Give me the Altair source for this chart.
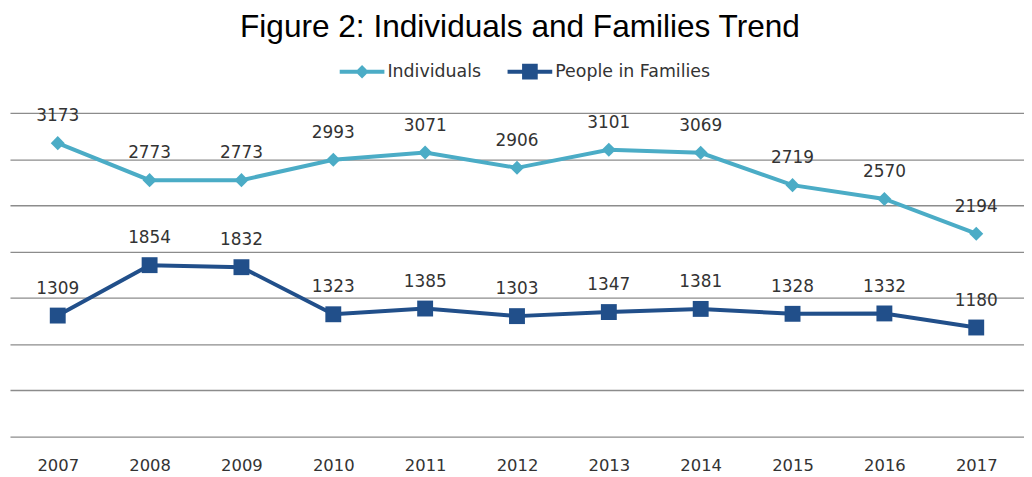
import altair as alt
import pandas as pd

years = ["2007", "2008", "2009", "2010", "2011", "2012", "2013", "2014", "2015", "2016", "2017"]
individuals = [3173, 2773, 2773, 2993, 3071, 2906, 3101, 3069, 2719, 2570, 2194]
families = [1309, 1854, 1832, 1323, 1385, 1303, 1347, 1381, 1328, 1332, 1180]
series_names = ["Individuals", "People in Families"]
series_colors = ["#4BACC6", "#214F8A"]
grid_values = [0, 500, 1000, 1500, 2000, 2500, 3000, 3500]

rows = []
for y, v in zip(years, individuals):
    rows.append({"year": y, "value": v, "series": series_names[0]})
for y, v in zip(years, families):
    rows.append({"year": y, "value": v, "series": series_names[1]})
df = pd.DataFrame(rows)

# legend symbols: a line segment with the series marker on it
IND_SYMBOL = "M-1,-0.09L1,-0.09L1,0.09L-1,0.09Z M0,-0.3L0.3,0L0,0.3L-0.3,0Z"
FAM_SYMBOL = "M-1,-0.09L1,-0.09L1,0.09L-1,0.09Z M-0.35,-0.35L0.35,-0.35L0.35,0.35L-0.35,0.35Z"

x_enc = alt.X(
    "year:N",
    sort=years,
    scale=alt.Scale(type="point", padding=0.52),
    axis=alt.Axis(
        title=None, labelAngle=0, ticks=False, domain=False, grid=False,
        labelFont="DejaVu Sans", labelFontSize=16.5, labelColor="#333333",
        labelPadding=21,
    ),
)
y_enc = alt.Y(
    "value:Q",
    scale=alt.Scale(domain=[0, 3500], nice=False, zero=True),
    axis=alt.Axis(
        title=None, labels=False, ticks=False, domain=False,
        values=grid_values, gridColor="#8C8C8C", gridWidth=1.3,
    ),
)

legend = alt.Legend(
    title=None,
    orient="none",
    legendX=332,
    legendY=-64,
    direction="horizontal",
    labelFont="DejaVu Sans",
    labelFontSize=17.5,
    labelColor="#333333",
    labelOffset=3,
    columnPadding=26,
    padding=0,
    symbolSize=2025,
    symbolOpacity=1,
    symbolStrokeWidth=0,
)

base = alt.Chart(df)

# tiny points that only carry the legend (hidden beneath the real markers)
legend_carrier = base.mark_point(filled=True, size=1, opacity=1).encode(
    x=x_enc,
    y=y_enc,
    color=alt.Color("series:N", scale=alt.Scale(domain=series_names, range=series_colors), legend=legend),
    shape=alt.Shape("series:N", scale=alt.Scale(domain=series_names, range=[IND_SYMBOL, FAM_SYMBOL]), legend=legend),
)

line_ind = base.transform_filter(alt.datum.series == series_names[0]).mark_line(
    strokeWidth=4, color=series_colors[0]
).encode(x=x_enc, y=y_enc)
line_fam = base.transform_filter(alt.datum.series == series_names[1]).mark_line(
    strokeWidth=4, color=series_colors[1]
).encode(x=x_enc, y=y_enc)

pts_ind = base.transform_filter(alt.datum.series == series_names[0]).mark_point(
    shape="diamond", filled=True, size=200, opacity=1, color=series_colors[0]
).encode(x=x_enc, y=y_enc)

pts_fam = base.transform_filter(alt.datum.series == series_names[1]).mark_point(
    shape="square", filled=True, size=256, opacity=1, color=series_colors[1]
).encode(x=x_enc, y=y_enc)

labels = base.mark_text(
    font="DejaVu Sans", fontSize=17, color="#333333", dy=-27, baseline="middle", align="center"
).encode(x=x_enc, y=y_enc, text="value:Q")

chart = alt.layer(legend_carrier, line_ind, line_fam, pts_ind, pts_fam, labels).properties(
    width=1021,
    height=326,
    autosize="none",
    padding={"left": 2, "top": 104, "right": 0, "bottom": 39},
    title=alt.TitleParams(
        "Figure 2: Individuals and Families Trend",
        font="Liberation Sans",
        fontSize=31.8,
        fontWeight="normal",
        color="#000000",
        anchor="middle",
        dx=3,
        offset=6,
    ),
).configure_view(stroke=None)

chart.save("out.html", embed_options={"renderer": "svg", "actions": False})
